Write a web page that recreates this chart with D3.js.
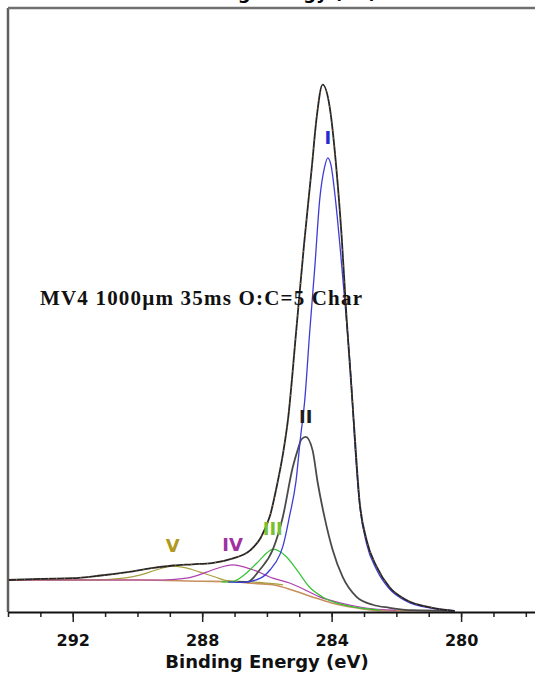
<!DOCTYPE html>
<html>
<head>
<meta charset="utf-8">
<script src="https://cdn.jsdelivr.net/npm/d3@7"></script>
<style>
    body { margin: 0; background: #fff; }
    svg { display: block; }
    .tick text { font-family: "DejaVu Sans", sans-serif; font-weight: bold; font-size: 16px; fill: #111; }
</style>
</head>
<body>
<svg id="chart" width="535" height="674"></svg>
<script>
"use strict"

// binding energy (eV), intensity (arb. units)
const envelope = [
    [294.0, 5.3], [293.0, 5.5], [292.0, 5.6], [291.2, 6.0], [290.2, 6.7], [289.5, 7.3],
    [288.9, 7.7], [288.3, 7.9], [287.7, 8.1], [287.1, 8.8], [286.5, 10.3], [286.2, 12.2],
    [285.9, 16.0], [285.7, 20.7], [285.5, 26.3], [285.35, 31.8], [285.1, 46.2], [284.85, 61.0],
    [284.62, 73.2], [284.46, 82.0], [284.28, 87.3], [284.06, 83.6], [283.85, 73.2], [283.69, 62.1],
    [283.54, 48.8], [283.38, 36.5], [283.29, 29.5], [283.14, 18.5], [282.92, 11.9], [282.61, 7.5],
    [282.21, 4.1], [281.69, 2.0], [280.88, 0.7], [280.2, 0.2]
]

const peakI = [
    [287.2, 5.0], [286.75, 4.9], [286.2, 5.6], [285.9, 7.0], [285.6, 9.5], [285.5, 11.0],
    [285.3, 15.9], [285.1, 21.7], [284.97, 28.5], [284.83, 35.1], [284.68, 46.2], [284.52, 57.1],
    [284.37, 68.2], [284.22, 73.6], [284.12, 75.2], [284.02, 74.0], [283.88, 68.2], [283.73, 59.9],
    [283.55, 48.8], [283.39, 37.9], [283.29, 28.5], [283.14, 18.0], [282.92, 11.3], [282.61, 7.0],
    [282.21, 3.8], [281.69, 1.8], [280.88, 0.6], [280.2, 0.2]
]

const peakII = [
    [286.9, 5.0], [286.6, 5.0], [286.22, 7.0], [285.82, 10.3], [285.51, 15.7], [285.2, 24.0],
    [285.05, 26.8], [284.93, 28.6], [284.8, 29.0], [284.59, 26.8], [284.43, 21.4], [284.22, 15.7],
    [283.97, 10.3], [283.66, 5.8], [283.23, 2.5], [282.73, 1.2], [282.21, 0.7], [281.5, 0.3],
    [280.2, 0.2]
]

const peakIII = [
    [287.4, 5.0], [287.1, 5.0], [286.84, 5.6], [286.62, 6.5], [286.22, 8.6], [286.0, 9.8],
    [285.82, 10.4], [285.6, 10.0], [285.39, 9.1], [285.08, 7.0], [284.68, 4.1], [284.28, 2.5],
    [283.85, 1.5], [283.3, 0.8], [282.5, 0.3]
]

const peakIV = [
    [294.0, 5.3], [290.0, 5.3], [289.2, 5.3], [288.48, 5.6], [287.86, 6.6], [287.55, 7.2],
    [287.06, 7.8], [286.44, 7.0], [285.82, 5.6], [285.3, 4.8], [284.99, 4.1], [284.37, 2.5],
    [283.75, 1.5], [283.0, 0.7], [282.0, 0.3]
]

const peakV = [
    [294.0, 5.3], [291.5, 5.3], [290.85, 5.4], [289.93, 6.1], [289.4, 7.0], [288.91, 7.6],
    [288.5, 7.3], [288.07, 6.6], [287.6, 5.8], [287.24, 5.2], [286.22, 4.9], [285.5, 4.5]
]

const background = [
    [294.0, 5.3], [290.0, 5.3], [288.0, 5.1], [287.0, 5.0], [286.6, 4.8], [285.82, 4.5],
    [285.2, 3.6], [284.6, 2.5], [284.0, 1.5], [283.25, 0.7], [282.45, 0.2], [280.2, 0.2]
]

const peakNames = ["I", "II", "III", "IV", "V"]
const majorTicks = [292, 288, 284, 280]
const axisTitle = "Binding Energy (eV)"
const sampleNote = "MV4 1000\u00b5m  35ms  O:C=5 Char"

function renderSpectrum(properties) {
    let svg = properties.svg

    let x = d3.scaleLinear().domain([294, 277.5]).range([8, 542]),
        y = d3.scaleLinear().domain([0, 100]).range([612, 8])

    let line = d3.line()
        .x(d => x(d[0]))
        .y(d => y(d[1]))
        .curve(d3.curveMonotoneX)

    // top title of the original frame, cut off by the crop
    svg.append("text")
        .attr("x", 275).attr("y", -1)
        .attr("text-anchor", "middle")
        .style("font-family", "DejaVu Sans, sans-serif")
        .style("font-weight", "bold").style("font-size", "18px")
        .text(axisTitle)

    // frame: left and top edges
    svg.append("line").attr("x1", 8).attr("x2", 8).attr("y1", 8).attr("y2", 612)
        .attr("stroke", "#606060").attr("stroke-width", 2.5)
    svg.append("line").attr("x1", 8).attr("x2", 535).attr("y1", 8).attr("y2", 8)
        .attr("stroke", "#707070").attr("stroke-width", 2.5)

    // components drawn under the envelope
    let series = [
        {data: background, color: "#c8905c", width: 1.6},
        {data: peakV, color: "#a8a040", width: 1.2},
        {data: peakIV, color: "#b040b0", width: 1.2},
        {data: peakIII, color: "#33c433", width: 1.2},
        {data: peakII, color: "#4a4a4a", width: 1.8},
        {data: peakI, color: "#3d3dd6", width: 1.3}
    ]

    svg.append("g")
        .selectAll("path")
        .data(series)
        .enter().append("path")
        .attr("d", d => line(d.data))
        .attr("fill", "none")
        .attr("stroke", d => d.color)
        .attr("stroke-width", d => d.width)

    svg.append("path")
        .attr("d", line(envelope))
        .attr("fill", "none")
        .attr("stroke", "#262626")
        .attr("stroke-width", 1.8)
    svg.append("path")
        .attr("d", line(envelope))
        .attr("fill", "none")
        .attr("stroke", "#c0702a")
        .attr("stroke-width", 1)
        .attr("stroke-dasharray", "1,7")

    // peak labels sit above each component's apex
    let labels = [
        {name: peakNames[0], data: peakI, color: "#2a2ad0"},
        {name: peakNames[1], data: peakII, color: "#1c1c24"},
        {name: peakNames[2], data: peakIII, color: "#78c030"},
        {name: peakNames[3], data: peakIV, color: "#a030a0"},
        {name: peakNames[4], data: peakV, color: "#b09a20"}
    ]

    svg.append("g")
        .selectAll("text")
        .data(labels)
        .enter().append("text")
        .attr("x", d => x(d3.greatest(d.data, p => p[1])[0]))
        .attr("y", d => y(d3.max(d.data, p => p[1])) - 14)
        .attr("text-anchor", "middle")
        .attr("fill", d => d.color)
        .style("font-family", "DejaVu Sans, sans-serif")
        .style("font-weight", "bold").style("font-size", "18px")
        .text(d => d.name)

    svg.append("text")
        .attr("x", 40).attr("y", 305)
        .attr("textLength", 322).attr("lengthAdjust", "spacing")
        .attr("fill", "#111")
        .style("font-family", "Liberation Serif, serif")
        .style("font-weight", "bold").style("font-size", "21px")
        .text(sampleNote)

    // bottom axis: minor every 1 eV, labelled every 4 eV
    svg.append("g")
        .attr("transform", "translate(0,612)")
        .call(d3.axisBottom(x).tickValues(d3.range(278, 295)).tickSize(5).tickSizeOuter(0).tickFormat(""))
        .call(g => g.select(".domain").remove())
        .selectAll("line").attr("stroke", "#222").attr("stroke-width", 1.5)

    let xAxis = svg.append("g")
        .attr("transform", "translate(0,612)")
        .call(d3.axisBottom(x).tickValues(majorTicks).tickSize(10).tickSizeOuter(0).tickFormat(d3.format("d")))
    xAxis.select(".domain").attr("stroke", "#111").attr("stroke-width", 2)
    xAxis.selectAll(".tick line").attr("stroke", "#222").attr("stroke-width", 1.5)
    xAxis.selectAll(".tick text").attr("y", 34).attr("dy", null)

    svg.append("text")
        .attr("x", 267).attr("y", 668)
        .attr("text-anchor", "middle")
        .attr("fill", "#111")
        .style("font-family", "DejaVu Sans, sans-serif")
        .style("font-weight", "bold").style("font-size", "18px")
        .text(axisTitle)
}

renderSpectrum({svg: d3.select("#chart")})
</script>
</body>
</html>
